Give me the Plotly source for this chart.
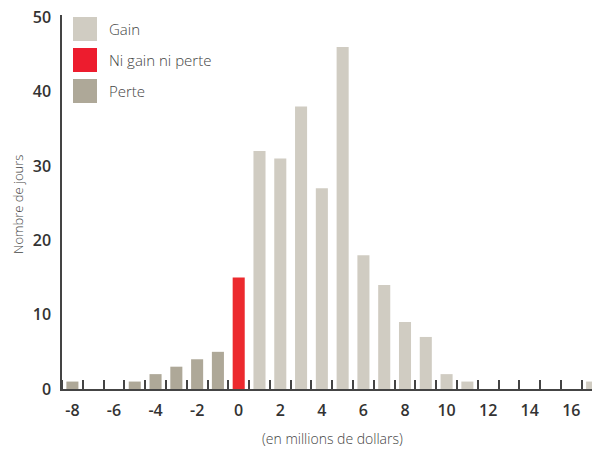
import plotly.graph_objects as go

# Data
loss_x = [-8, -7, -6, -5, -4, -3, -2, -1]
loss_y = [1, 0, 0, 1, 2, 3, 4, 5]
zero_x = [0]
zero_y = [15]
gain_x = [1, 2, 3, 4, 5, 6, 7, 8, 9, 10, 11, 12, 13, 14, 15, 16, 17]
gain_y = [32, 31, 38, 27, 46, 18, 14, 9, 7, 2, 1, 0, 0, 0, 0, 0, 1]

legend_labels = ["Gain", "Ni gain ni perte", "Perte"]
x_tickvals = [-8, -6, -4, -2, 0, 2, 4, 6, 8, 10, 12, 14, 16]
y_tickvals = [0, 10, 20, 30, 40, 50]
x_title = "(en millions de dollars)"
y_title = "Nombre de jours"

C_GAIN = "#d0ccc2"
C_ZERO = "#ec2a2e"
C_LOSS = "#aea898"
C_LEG_ZERO = "#ed1c2e"

# page body has an 8px default margin; figure sized to fill the rest
OFF = 8
W, H = 600 - OFF, 449 - OFF
ML, MR, MT, MB = 62 - OFF, 0, 15 - OFF, 449 - 389
PW, PH = W - ML - MR, H - MT - MB

def px_to_paper_x(px):
    return (px - OFF - ML) / PW

def px_to_paper_y(py):
    return (H - MB - (py - OFF)) / PH

fig = go.Figure()
fig.add_trace(go.Bar(x=gain_x, y=gain_y, marker_color=C_GAIN, name=legend_labels[0]))
fig.add_trace(go.Bar(x=zero_x, y=zero_y, marker_color=C_ZERO, name=legend_labels[1]))
fig.add_trace(go.Bar(x=loss_x, y=loss_y, marker_color=C_LOSS, name=legend_labels[2]))

fig.update_traces(marker_line_width=0, width=0.58)

FONT = "Open Sans"
fig.update_layout(
    width=W, height=H,
    margin=dict(l=ML, r=MR, t=MT, b=MB),
    plot_bgcolor="white", paper_bgcolor="white",
    showlegend=False,
    barmode="overlay",
    font=dict(family=FONT, color="#333333"),
)
fig.update_xaxes(
    range=[-8.5, 17.38],
    automargin=False,
    tickvals=x_tickvals,
    ticktext=[str(v) for v in x_tickvals],
    ticks="", showgrid=False, zeroline=False,
    showline=True, linecolor="#444444", linewidth=1.5,
    tickfont=dict(family=FONT, size=16, color="#333333", weight=600),
    ticklabelstandoff=6,
    ticklabeloverflow="allow",
    minor=dict(tick0=-7.5, dtick=1, ticks="inside", ticklen=9, tickcolor="#444444", tickwidth=1.5, showgrid=False),
)
fig.update_yaxes(
    range=[0, 50.3],
    automargin=False,
    tickvals=y_tickvals,
    ticks="", showgrid=False, zeroline=False,
    showline=True, linecolor="#444444", linewidth=1.5,
    tickfont=dict(family=FONT, size=16, color="#333333", weight=600),
    ticklabelstandoff=6,
    ticklabeloverflow="allow",
)

# Axis titles
fig.add_annotation(xref="paper", yref="paper", x=px_to_paper_x(332), y=px_to_paper_y(438),
                   text=x_title, showarrow=False, xanchor="center", yanchor="middle",
                   font=dict(family=FONT, size=14, color="#444444", weight=300))
fig.add_annotation(xref="paper", yref="paper", x=px_to_paper_x(18), y=px_to_paper_y(205),
                   text=y_title, showarrow=False, xanchor="center", yanchor="middle", textangle=-90,
                   font=dict(family=FONT, size=13, color="#444444", weight=300))

# Manual legend with large square swatches
leg_colors = [C_GAIN, C_LEG_ZERO, C_LOSS]
for i, (lab, col) in enumerate(zip(legend_labels, leg_colors)):
    top = 17 + i * 31
    fig.add_shape(type="rect", xref="paper", yref="paper",
                  x0=px_to_paper_x(73), x1=px_to_paper_x(97),
                  y0=px_to_paper_y(top + 24), y1=px_to_paper_y(top),
                  fillcolor=col, line_width=0)
    fig.add_annotation(xref="paper", yref="paper",
                       x=px_to_paper_x(107), y=px_to_paper_y(top + 12),
                       text=lab, showarrow=False, xanchor="left", yanchor="middle",
                       font=dict(family=FONT, size=15, color="#444444", weight=300))

fig.write_html("out.html")
